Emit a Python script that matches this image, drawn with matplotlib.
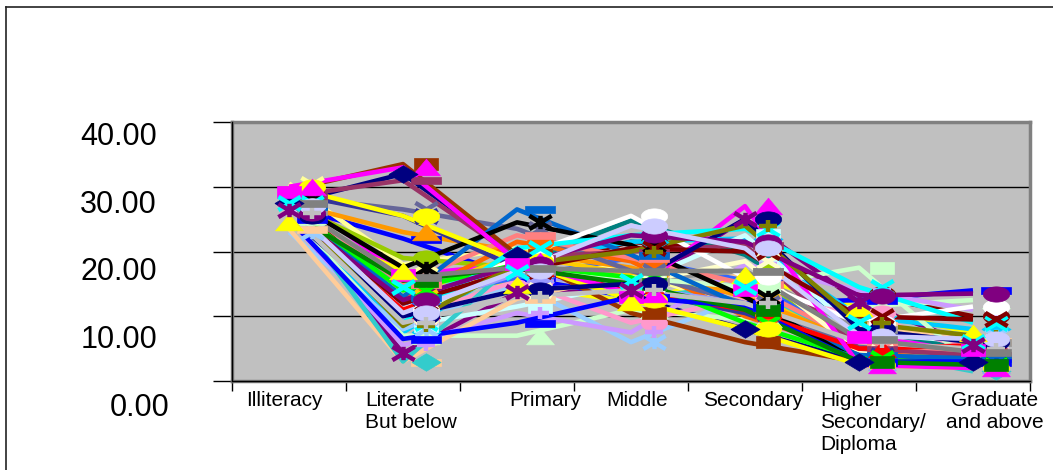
import matplotlib
matplotlib.use("Agg")
import matplotlib.pyplot as plt
import matplotlib.transforms as mtransforms
from matplotlib.path import Path
from matplotlib.lines import Line2D
import numpy as np

plt.rcParams['font.family'] = ['Liberation Sans', 'DejaVu Sans']

categories = ["Illiteracy", "Literate\nBut below", "Primary", "Middle", "Secondary",
              "Higher\nSecondary/\nDiploma", "Graduate\nand above"]
y_ticks = [0, 10, 20, 30, 40]
y_tick_labels = ["0.00", "10.00", "20.00", "30.00", "40.00"]

# one list per district (share in each education level, %)
d01 = [27.5, 32.0, 19.5, 13.0, 8.0, 3.0, 3.0]
d02 = [29.2, 16.4, 18.0, 13.0, 14.0, 6.8, 4.8]
d03 = [24.5, 17.0, 14.8, 12.2, 16.4, 11.3, 7.4]
d04 = [27.5, 14.5, 16.8, 15.5, 14.5, 9.1, 6.0]
d05 = [26.4, 4.3, 13.7, 14.0, 25.0, 12.2, 5.6]
d06 = [28.5, 12.0, 17.0, 21.5, 20.0, 13.5, 10.0]
d07 = [26.0, 9.0, 18.0, 24.8, 19.5, 8.0, 5.0]
d08 = [27.0, 22.0, 16.0, 13.0, 12.0, 12.5, 14.0]
d09 = [26.5, 7.5, 18.5, 21.5, 22.0, 10.0, 8.0]
d10 = [28.0, 8.5, 11.5, 15.0, 22.5, 7.5, 6.0]
d11 = [25.5, 7.0, 7.0, 11.0, 9.5, 11.5, 12.5]
d12 = [30.5, 18.0, 20.5, 17.0, 11.0, 3.5, 5.0]
d13 = [23.0, 8.0, 15.0, 6.0, 13.0, 9.0, 7.0]
d14 = [27.0, 9.5, 15.5, 9.0, 12.8, 10.5, 4.7]
d15 = [25.0, 5.5, 10.5, 7.5, 18.0, 14.0, 11.0]
d16 = [23.5, 3.0, 12.7, 16.5, 16.5, 8.7, 6.2]
d17 = [27.0, 12.0, 16.0, 19.0, 15.5, 6.5, 3.7]
d18 = [27.0, 3.0, 18.5, 12.5, 15.0, 4.8, 1.5]
d19 = [27.5, 19.0, 17.5, 16.0, 17.0, 6.0, 3.0]
d20 = [26.5, 13.0, 19.5, 16.5, 14.0, 5.0, 4.0]
d21 = [27.5, 23.0, 20.0, 17.5, 13.0, 6.0, 3.5]
d22 = [26.0, 12.5, 21.5, 18.5, 10.0, 4.5, 3.0]
d23 = [28.5, 26.5, 23.5, 17.0, 12.0, 5.5, 4.0]
d24 = [26.0, 15.0, 17.0, 15.5, 17.0, 8.0, 6.0]
d25 = [28.0, 15.0, 22.5, 19.0, 15.0, 6.0, 4.0]
d26 = [25.0, 10.0, 17.0, 16.0, 14.5, 17.5, 2.5]
d27 = [26.0, 11.0, 16.5, 14.5, 12.0, 3.0, 2.5]
d28 = [27.0, 10.0, 14.0, 15.0, 18.5, 4.5, 2.5]
d29 = [29.5, 33.5, 19.5, 10.5, 6.0, 3.0, 2.5]
d30 = [28.5, 31.0, 19.0, 20.0, 21.0, 5.0, 4.0]
d31 = [29.0, 25.5, 17.5, 14.0, 10.5, 4.0, 3.0]
d32 = [27.0, 13.0, 26.5, 19.5, 11.5, 4.0, 3.5]
d33 = [28.0, 17.5, 24.5, 21.0, 13.0, 3.0, 2.5]
d34 = [27.0, 11.0, 19.0, 25.5, 16.0, 9.0, 11.5]
d35 = [26.0, 11.0, 17.5, 14.0, 11.0, 5.0, 5.5]
d36 = [27.0, 14.0, 18.0, 16.0, 9.0, 3.5, 2.5]
d37 = [25.0, 6.5, 9.0, 13.0, 11.5, 3.0, 3.0]
d38 = [30.0, 25.5, 18.5, 12.5, 8.0, 2.5, 2.0]
d39 = [30.0, 33.0, 18.5, 13.5, 27.0, 2.5, 2.0]
d40 = [27.5, 9.0, 20.5, 22.5, 23.5, 14.5, 9.0]
d41 = [26.5, 12.0, 17.0, 20.5, 20.0, 10.0, 9.5]
d42 = [26.0, 15.5, 17.5, 15.0, 11.0, 3.0, 2.5]
d43 = [25.5, 10.0, 14.0, 15.0, 25.0, 8.0, 6.0]
d44 = [27.0, 8.5, 18.0, 20.0, 24.0, 9.0, 7.0]
d45 = [26.0, 12.5, 18.0, 22.5, 21.5, 13.2, 13.5]
d46 = [27.0, 10.5, 17.0, 24.0, 20.5, 7.0, 6.5]
d47 = [26.0, 9.0, 13.0, 14.0, 12.0, 6.0, 5.0]
d48 = [27.5, 16.0, 17.5, 17.0, 17.0, 6.5, 4.5]

series = [d01, d02, d03, d04, d05, d06, d07, d08, d09, d10, d11, d12, d13, d14, d15, d16,
          d17, d18, d19, d20, d21, d22, d23, d24, d25, d26, d27, d28, d29, d30, d31, d32,
          d33, d34, d35, d36, d37, d38, d39, d40, d41, d42, d43, d44, d45, d46, d47, d48]

colors = ["#000080", "#FF00FF", "#FFFF00", "#00FFFF", "#800080", "#800000", "#008080", "#0000FF",
          "#00CCFF", "#CCFFFF", "#CCFFCC", "#FFFF99", "#99CCFF", "#FF99CC", "#CC99FF", "#FFCC99",
          "#3366FF", "#33CCCC", "#99CC00", "#FFCC00", "#FF9900", "#FF6600", "#666699", "#969696",
          "#FF8080", "#CCFFCC", "#9999FF", "#FFFFCC", "#993300", "#993366", "#333399", "#0066CC",
          "#000000", "#FFFFFF", "#FF0000", "#00FF00", "#0000FF", "#FFFF00", "#FF00FF", "#00FFFF",
          "#800000", "#008000", "#000080", "#808000", "#800080", "#CCCCFF", "#C0C0C0", "#808080"]

markers = ["diamond", "square", "triangle", "x", "star", "circle", "plus", "dash",
           "diamond", "square", "triangle", "x", "star", "circle", "plus", "dash",
           "diamond", "diamond", "circle", "x", "triangle", "circle", "x", "dash",
           "dash", "square", "triangle", "x", "square", "dash", "x", "dash",
           "star", "circle", "triangle", "x", "dash", "circle", "triangle", "x",
           "x", "square", "circle", "plus", "circle", "circle", "plus", "dash"]

# ---- marker shapes (Excel-like, wide) ----
M, L = Path.MOVETO, Path.LINETO
t = np.linspace(0, 2 * np.pi, 40)
shapes = {
    "square": (Path([(-1, -0.55), (1, -0.55), (1, 0.55), (-1, 0.55), (-1, -0.55)]), True, 17),
    "diamond": (Path([(-1, 0), (0, 0.6), (1, 0), (0, -0.6), (-1, 0)]), True, 21),
    "triangle": (Path([(-1, -0.6), (1, -0.6), (0, 0.6), (-1, -0.6)]), True, 20),
    "circle": (Path(np.column_stack([np.cos(t), 0.58 * np.sin(t)])), True, 19),
    "dash": (Path([(-1, -0.24), (1, -0.24), (1, 0.24), (-1, 0.24), (-1, -0.24)]), True, 21),
    "x": (Path([(-1, -0.6), (1, 0.6), (-1, 0.6), (1, -0.6)], [M, L, M, L]), False, 16),
    "star": (Path([(-1, -0.6), (1, 0.6), (-1, 0.6), (1, -0.6), (0, -0.6), (0, 0.6)],
                  [M, L, M, L, M, L]), False, 16),
    "plus": (Path([(-1, 0), (1, 0), (0, -0.7), (0, 0.7)], [M, L, M, L]), False, 13),
}

fig = plt.figure(figsize=(10.53, 4.70), dpi=100)
ax = fig.add_axes([232 / 1053, 89 / 470, 798 / 1053, 259 / 470])
ax.set_facecolor("#C0C0C0")

x = np.arange(len(categories))
for i, vals in enumerate(series):
    ax.plot(x, vals, color=colors[i], lw=3.3, zorder=2, solid_capstyle='butt')

for i, vals in enumerate(series):
    path, filled, ms = shapes[markers[i]]
    shift = 0.0 if i < 5 else 0.2
    z = 5 if i < 5 else 3
    if filled:
        ax.plot(x + shift, vals, linestyle='none', marker=path, markersize=ms,
                markerfacecolor=colors[i], markeredgecolor=colors[i], markeredgewidth=0.5,
                zorder=z, clip_on=False)
    else:
        ax.plot(x + shift, vals, linestyle='none', marker=path, markersize=ms,
                markerfacecolor='none', markeredgecolor=colors[i], markeredgewidth=3.2,
                zorder=z, clip_on=False)

ax.set_xlim(-0.5, 6.5)
ax.set_ylim(0, 40)
ax.set_yticks(y_ticks)
ax.set_yticklabels([])
ax.set_xticks(np.arange(-0.5, 7, 1))
ax.set_xticklabels([])
ax.tick_params(axis='y', direction='out', length=14, width=1, color='black')
ax.tick_params(axis='x', direction='out', length=7, width=1, color='black')
for v in y_ticks[1:4]:
    ax.axhline(v, color='black', lw=1, zorder=1)
for sp in ax.spines.values():
    sp.set_color('#808080')
    sp.set_linewidth(2.5)
ax.add_line(Line2D([0, 0], [0, 1], transform=ax.transAxes, color='black', lw=1, zorder=6, clip_on=False))
ax.add_line(Line2D([0, 1], [0, 0], transform=ax.transAxes, color='black', lw=1, zorder=6, clip_on=False))

# y labels sit lower than their gridlines, as in the source
ytrans = ax.get_yaxis_transform()
for v, lab in zip(y_ticks, y_tick_labels):
    drop = (27 - 0.3 * v) * 0.72
    off = mtransforms.ScaledTranslation(0, -drop / 72, fig.dpi_scale_trans)
    xpos = -0.078 if v == 0 else -0.094
    ax.text(xpos, v, lab, transform=ytrans + off, ha='right', va='center', fontsize=22)

label_dx = [-0.04, -0.33, 0.25, 0.05, 0.07, -0.34, 0.19]
label_ha = ['center', 'left', 'center', 'center', 'center', 'left', 'center']
xtrans = ax.get_xaxis_transform()
for i, lab in enumerate(categories):
    ax.text(i + label_dx[i], -0.04, lab, transform=xtrans, ha=label_ha[i], va='top',
            fontsize=15, multialignment=label_ha[i] if label_ha[i] == 'left' else 'center')

# outer chart frame (left and top edges visible)
fig.add_artist(Line2D([6 / 1053, 6 / 1053], [0, 1 - 7 / 470], transform=fig.transFigure, color='#222222', lw=1.2))
fig.add_artist(Line2D([6 / 1053, 1], [1 - 7 / 470, 1 - 7 / 470], transform=fig.transFigure, color='#222222', lw=1.2))

fig.savefig("out.png", dpi=100)
